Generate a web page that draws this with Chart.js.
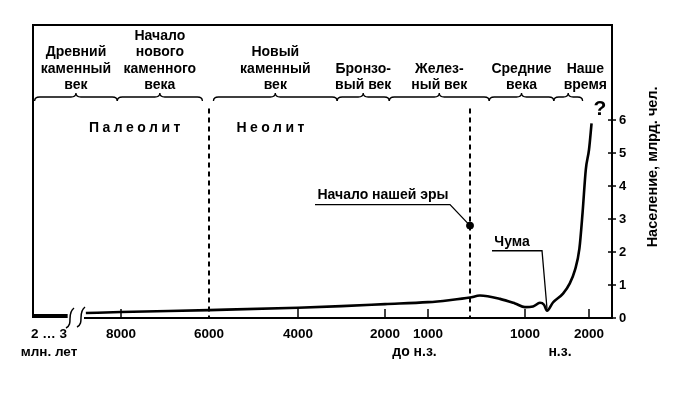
<!DOCTYPE html>
<html>
<head>
<meta charset="utf-8">
<script src="https://cdn.jsdelivr.net/npm/chart.js@4.4.1/dist/chart.umd.min.js"></script>
<style>
  html, body { margin: 0; padding: 0; background: #fff; }
  #wrap { width: 695px; height: 393px; }
</style>
</head>
<body>
<div id="wrap"><canvas id="myChart"></canvas></div>
<script>
const FONT = '"Liberation Sans", Arial, sans-serif';

// x axis in years (negative = BC)
const tickYears = [-2500000, -8000, -6000, -4000, -2000, -1000, 1000, 2000];
const tickLabels = [['2 … 3', 'млн. лет'], '8000', '6000', '4000', '2000', '1000', '1000', '2000'];
const popTicks = [0, 1, 2, 3, 4, 5, 6];

// population, bln people
const earlyYears = [-3000000, -1100000];
const earlyPop = [0.06, 0.06];
const years = [-8950, -8000, -6000, -4000, -3000, -2000, -1000, -500, 0, 180, 545, 818, 1000, 1125, 1234, 1297, 1344, 1437, 1594, 1700, 1780, 1850, 1900, 1950, 2000, 2040];
const population = [0.15, 0.18, 0.24, 0.31, 0.36, 0.42, 0.48, 0.54, 0.62, 0.68, 0.58, 0.44, 0.33, 0.35, 0.46, 0.40, 0.22, 0.47, 0.74, 1.05, 1.45, 2.1, 3.2, 4.5, 5.1, 5.9];

// periods over the plot
const eraNames = [
  ['Древний', 'каменный', 'век'],
  ['Начало', 'нового', 'каменного', 'века'],
  ['Новый', 'каменный', 'век'],
  ['Бронзо-', 'вый век'],
  ['Желез-', 'ный век'],
  ['Средние', 'века'],
  ['Наше', 'время']
];
const eraStart = [-2950000, -8100, -5900, -3100, -1900, 350, 1450];
const eraEnd = [-8100, -6150, -3100, -1900, 350, 1450, 1900];

const eraStartYear = 0, eraStartMark = 2.8;   // "Начало нашей эры"
const plagueYear = 1344, plaguePop = 0.22;     // "Чума"

// broken time axis: year -> axis units
const knotYears = [-3000000, -2500000, -1000000, -9000, -8000, -6000, -4000, -2000, -1000, 0, 1000, 2000, 2360];
const knotUnits = [0, 16, 36, 51, 88, 176, 265, 352, 395, 437, 492, 556, 579];

function interp(v, from, to) {
  for (let i = 1; i < from.length; i++) {
    if (v <= from[i] || i === from.length - 1) {
      const t = (v - from[i - 1]) / (from[i] - from[i - 1]);
      return to[i - 1] + t * (to[i] - to[i - 1]);
    }
  }
}
const unitMax = knotUnits[knotUnits.length - 1];

class EraScale extends Chart.LinearScale {
  buildTicks() {
    return tickYears.map(v => ({ value: v }));
  }
  getPixelForValue(value) {
    return this.getPixelForDecimal(interp(value, knotYears, knotUnits) / unitMax);
  }
  getValueForPixel(pixel) {
    return interp(this.getDecimalForPixel(pixel) * unitMax, knotUnits, knotYears);
  }
}
EraScale.id = 'era';
EraScale.defaults = Chart.LinearScale.defaults;
Chart.register(EraScale);

function brace(ctx, x1, x2, yb) {
  const m = (x1 + x2) / 2, h = 4;
  ctx.beginPath();
  ctx.moveTo(x1, yb + h);
  ctx.quadraticCurveTo(x1, yb, x1 + 5, yb);
  ctx.lineTo(m - 5, yb);
  ctx.quadraticCurveTo(m, yb, m, yb - h);
  ctx.quadraticCurveTo(m, yb, m + 5, yb);
  ctx.lineTo(x2 - 5, yb);
  ctx.quadraticCurveTo(x2, yb, x2, yb + h);
  ctx.stroke();
}

function breakMark(ctx, cx, cy) {
  ctx.beginPath();
  ctx.moveTo(cx - 4, cy + 10);
  ctx.bezierCurveTo(cx + 4, cy + 6, cx - 4, cy - 4, cx + 4, cy - 10);
  ctx.stroke();
}

const decor = {
  id: 'decor',
  beforeDatasetsDraw(chart) {
    const { ctx, chartArea: a, scales: { x, y } } = chart;
    ctx.save();
    ctx.strokeStyle = '#000';
    ctx.lineWidth = 2;
    ctx.beginPath();
    ctx.moveTo(a.right, a.top);
    ctx.lineTo(a.left, a.top);
    ctx.lineTo(a.left, a.bottom);
    ctx.stroke();

    const b1 = x.getPixelForValue(-1000000);
    const b2 = x.getPixelForValue(-9000);
    ctx.beginPath();
    ctx.moveTo(a.left, a.bottom - 1);
    ctx.lineTo(b1 - 2, a.bottom - 1);
    ctx.moveTo(b2, a.bottom);
    ctx.lineTo(a.right, a.bottom);
    ctx.stroke();
    ctx.lineWidth = 1.5;
    breakMark(ctx, b1 + 1, a.bottom);
    breakMark(ctx, b2 - 3, a.bottom - 1);

    // ticks pointing into the plot
    tickYears.forEach(v => {
      if (v < -100000 || v === -6000) return;
      const px = x.getPixelForValue(v);
      ctx.beginPath();
      ctx.moveTo(px, a.bottom);
      ctx.lineTo(px, a.bottom - 9);
      ctx.stroke();
    });
    popTicks.forEach(v => {
      const py = y.getPixelForValue(v);
      ctx.beginPath();
      ctx.moveTo(a.right - 4, py);
      ctx.lineTo(a.right + 4, py);
      ctx.stroke();
    });

    // dashed borders Paleolithic / Neolithic and start of era
    ctx.lineWidth = 2;
    ctx.setLineDash([5, 4]);
    [-6000, 0].forEach(v => {
      const px = x.getPixelForValue(v);
      ctx.beginPath();
      ctx.moveTo(px, y.getPixelForValue(6.35));
      ctx.lineTo(px, a.bottom);
      ctx.stroke();
    });
    ctx.restore();
  },
  afterDraw(chart) {
    const { ctx, chartArea: a, scales: { x, y } } = chart;
    ctx.save();
    ctx.fillStyle = '#000';
    ctx.strokeStyle = '#000';

    // period braces and names
    ctx.lineWidth = 1.3;
    ctx.font = 'bold 14px ' + FONT;
    ctx.textAlign = 'center';
    ctx.textBaseline = 'alphabetic';
    eraNames.forEach((lines, i) => {
      const x1 = x.getPixelForValue(eraStart[i]);
      const x2 = x.getPixelForValue(eraEnd[i]);
      brace(ctx, x1, x2, a.top + 72);
      let cx = (x1 + x2) / 2;
      const w = Math.max(...lines.map(s => ctx.measureText(s).width));
      if (i === eraNames.length - 1) cx = a.right - 5 - w / 2;
      lines.forEach((s, j) => {
        ctx.fillText(s, cx, a.top + 64 - (lines.length - 1 - j) * 16.5);
      });
    });

    ctx.font = 'bold 21px ' + FONT;
    ctx.fillText('?', x.getPixelForValue(2170), a.top + 90);

    ctx.font = 'bold 14px ' + FONT;
    ctx.letterSpacing = '3.5px';
    ctx.fillText('Палеолит', x.getPixelForValue(-7650), a.top + 107);
    ctx.fillText('Неолит', x.getPixelForValue(-4580), a.top + 107);
    ctx.letterSpacing = '0px';

    // annotations
    ctx.lineWidth = 1.3;
    const ex = x.getPixelForValue(eraStartYear), ey = y.getPixelForValue(eraStartMark);
    ctx.beginPath();
    ctx.moveTo(ex - 155, ey - 21);
    ctx.lineTo(ex - 20, ey - 21);
    ctx.lineTo(ex, ey);
    ctx.stroke();
    ctx.fillText('Начало нашей эры', ex - 87, ey - 27);

    const px = x.getPixelForValue(plagueYear), py = y.getPixelForValue(plaguePop);
    ctx.beginPath();
    ctx.moveTo(px - 55, py - 60);
    ctx.lineTo(px - 5, py - 60);
    ctx.lineTo(px, py - 2);
    ctx.stroke();
    ctx.fillText('Чума', px - 35, py - 65);

    // under-axis notes
    ctx.fillText('до н.з.', (x.getPixelForValue(-2000) + x.getPixelForValue(-1000)) / 2 + 8, a.bottom + 38);
    ctx.fillText('н.з.', (x.getPixelForValue(1000) + x.getPixelForValue(2000)) / 2 + 3, a.bottom + 38);

    // y axis title
    ctx.font = 'bold 14.5px ' + FONT;
    ctx.translate(a.right + 41, y.getPixelForValue(4.58));
    ctx.rotate(-Math.PI / 2);
    ctx.textBaseline = 'middle';
    ctx.fillText('Население, млрд. чел.', 0, 0);
    ctx.restore();
  }
};

const ctx = document.getElementById('myChart');
const myChart = new Chart(ctx, {
  type: 'line',
  data: {
    datasets: [{
      data: earlyYears.map((v, i) => ({ x: v, y: earlyPop[i] })),
      borderColor: '#000',
      borderWidth: 4,
      pointRadius: 0
    }, {
      data: years.map((v, i) => ({ x: v, y: population[i] })),
      borderColor: '#000',
      borderWidth: 2.6,
      pointRadius: 0,
      cubicInterpolationMode: 'monotone'
    }, {
      data: [{ x: eraStartYear, y: eraStartMark }],
      showLine: false,
      pointRadius: 3.5,
      pointBackgroundColor: '#000',
      pointBorderColor: '#000'
    }]
  },
  options: {
    responsive: true,
    maintainAspectRatio: false,
    animation: false,
    layout: { padding: { left: 33, top: 25, right: 0, bottom: 0 } },
    plugins: { legend: { display: false }, tooltip: { enabled: false } },
    scales: {
      x: {
        type: 'era',
        min: -3000000,
        max: 2360,
        afterFit: s => { s.height = 75; },
        grid: { display: false },
        border: { display: false },
        ticks: {
          autoSkip: false,
          maxRotation: 0,
          padding: 0,
          color: '#000',
          font: { family: FONT, size: 13.5, weight: 'bold', lineHeight: 1.3 },
          callback: (v, i) => tickLabels[i]
        }
      },
      y: {
        position: 'right',
        min: 0,
        max: 8.88,
        afterFit: s => { s.width = 83; },
        afterBuildTicks: s => { s.ticks = popTicks.map(v => ({ value: v })); },
        grid: { display: false, drawTicks: false },
        border: { display: true, color: '#000', width: 2 },
        ticks: {
          padding: 7,
          color: '#000',
          font: { family: FONT, size: 13, weight: 'bold' }
        }
      }
    }
  },
  plugins: [decor]
});
</script>
</body>
</html>
